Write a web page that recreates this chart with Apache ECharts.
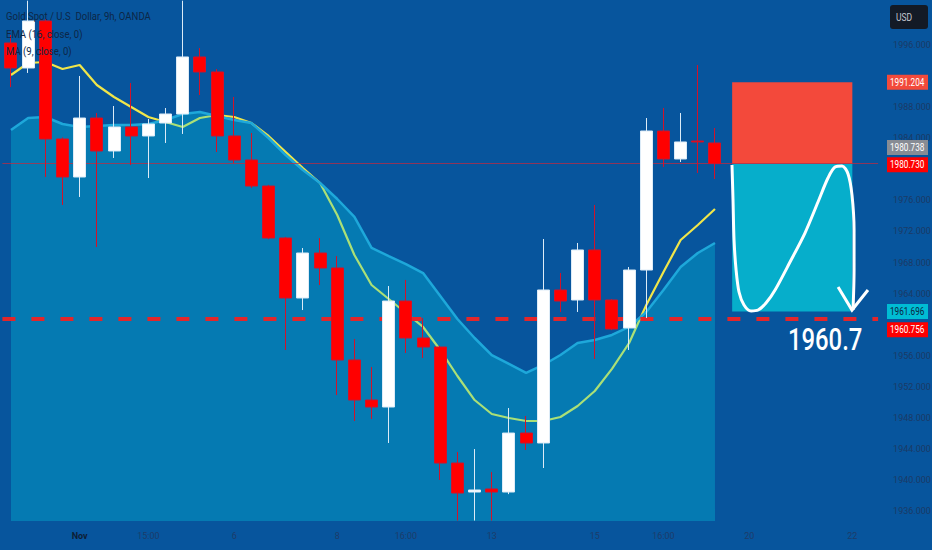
<!DOCTYPE html>
<html><head><meta charset="utf-8">
<script src="https://cdn.jsdelivr.net/npm/echarts/dist/echarts.min.js"></script>
<style>html,body{margin:0;padding:0;background:#07559d;}#c{width:932px;height:550px;}</style>
</head><body><div id="c"></div>
<script>
// ---- data ----
const opens  = [1996.26,1993.04,1999.09,1983.90,1979.01,1986.60,1982.36,1985.45,1984.29,1985.96,1987.12,1994.46,1992.53,1984.29,1981.20,1977.85,1971.16,1963.44,1969.23,1967.30,1955.46,1950.31,1949.41,1963.05,1958.29,1957.13,1942.20,1938.47,1938.86,1938.47,1946.06,1944.78,1964.47,1963.18,1969.62,1963.18,1959.58,1967.04,1984.93,1981.33,1983.64,1983.39];
const closes = [1993.04,1999.09,1983.90,1979.01,1986.60,1982.36,1985.45,1984.29,1985.83,1987.12,1994.46,1992.53,1984.29,1981.20,1977.85,1971.16,1963.44,1969.23,1967.30,1955.46,1950.31,1949.41,1963.05,1958.29,1957.13,1942.20,1938.34,1938.73,1938.47,1946.06,1944.78,1964.47,1963.05,1969.62,1963.18,1959.45,1967.04,1984.93,1981.33,1983.52,1983.52,1980.73];
const lows   = [1990.59,1992.40,1979.01,1975.41,1976.44,1970.00,1981.46,1980.56,1978.88,1983.39,1984.55,1989.56,1982.23,1980.80,1977.60,1971.00,1956.75,1961.89,1965.11,1950.95,1947.61,1947.87,1944.78,1956.36,1955.72,1940.02,1934.80,1934.80,1934.80,1938.20,1943.88,1941.56,1961.64,1961.64,1955.59,1959.30,1956.75,1960.86,1980.30,1980.94,1979.53,1978.75];
const highs  = [1997.29,2001.70,1999.30,1984.10,1992.01,1987.25,1988.15,1991.11,1986.48,1987.89,2001.70,1995.61,1992.91,1989.31,1984.67,1978.00,1971.30,1969.87,1971.16,1968.84,1958.16,1954.56,1964.98,1965.76,1960.86,1957.30,1943.62,1944.00,1941.04,1949.28,1948.25,1971.03,1966.66,1970.52,1975.41,1963.30,1967.43,1986.60,1987.89,1987.25,1993.43,1985.32];
const ema16  = [1992.14,1993.68,1993.81,1992.91,1993.43,1990.85,1989.31,1988.02,1986.73,1986.09,1985.45,1986.60,1986.99,1986.73,1985.96,1984.29,1982.23,1980.17,1978.24,1974.12,1968.97,1965.11,1963.31,1961.51,1959.71,1956.75,1953.40,1950.31,1948.51,1948.00,1947.61,1947.61,1948.13,1949.54,1951.47,1954.31,1957.65,1962.54,1966.79,1970.90,1972.83,1974.89];
const ma9    = [1985.06,1986.60,1986.73,1985.83,1985.45,1985.58,1985.70,1985.70,1985.83,1986.35,1987.12,1987.38,1986.86,1986.35,1985.96,1984.03,1981.84,1979.91,1978.24,1976.18,1973.87,1969.88,1968.84,1967.81,1966.65,1963.70,1960.74,1958.29,1956.10,1954.95,1953.79,1954.82,1956.10,1957.65,1958.04,1958.68,1959.71,1961.64,1964.47,1967.43,1969.23,1970.52];
const slotCount = 51;
const labelIdx  = [4,8,13,19,23,28,34,38,43,49];
const labelText = ['Nov','15:00','6','8','16:00','13','15','16:00','20','22'];
const yTicks = [1936,1940,1944,1948,1952,1956,1964,1968,1972,1976,1984,1988,1996];
const yMin = 1934.74, yMax = 2001.79;
const stopLevel = 1991.204, entryLevel = 1980.730, currentPrice = 1980.738, targetLevel = 1961.696, lineLevel = 1960.756;
const zoneStart = 42, zoneEnd = 49;
const curveX = [41.99,42.05,42.11,42.23,42.40,42.69,43.10,43.51,43.97,44.50,45.37,46.24,47.00,47.58,47.99,48.40,48.75,48.98,49.10,49.10,49.04];
const curveY = [1980.56,1976.05,1970.90,1967.04,1964.21,1962.54,1961.77,1961.89,1962.79,1964.47,1968.07,1971.80,1975.79,1978.88,1980.30,1980.43,1979.40,1976.69,1972.19,1967.04,1961.89];
const arrowX = [48.17,48.98,49.91];
const arrowY = [1964.85,1961.89,1964.47];
const legendLines = ['Gold Spot / U.S  Dollar, 9h, OANDA','EMA (16, close, 0)','MA (9, close, 0)'];
const targetText = '1960.7';
const tagValues = [stopLevel, currentPrice, entryLevel, targetLevel, lineLevel];

// ---- styles ----
const tagBg = ['#f24a3b','#878c94','#ff0000','#00bcd4','#ff0000'];
const tagFg = ['#ffffff','#ffffff','#ffffff','#0a2540','#ffffff'];
const tagShift = [0,-16,1,0,11];
const FONT = "Roboto, sans-serif";

const chart = echarts.init(document.getElementById('c'), null, {renderer:'svg', width:932, height:550});
const cats = Array.from({length: slotCount}, (_, i) => { const k = labelIdx.indexOf(i); return k >= 0 ? labelText[k] : ''; });
const candleData = opens.map((o, i) => [o, closes[i], lows[i], highs[i]]);
const curveData = curveX.map((x, i) => [x, curveY[i]]);
const arrowData = arrowX.map((x, i) => [x, arrowY[i]]);

chart.setOption({
  backgroundColor: '#07559d',
  animation: false,
  grid: {left: 2.4, right: 53.9, top: 0, bottom: 29, containLabel: false, outerBoundsMode: 'none'},
  xAxis: [
    {type: 'category', data: cats, boundaryGap: true,
     axisLine: {show: false}, axisTick: {show: false}, splitLine: {show: false},
     axisLabel: {interval: 0, margin: 10, color: '#1d3c6a', fontSize: 9, fontFamily: FONT,
       formatter: v => v === 'Nov' ? '{b|Nov}' : v,
       rich: {b: {fontWeight: 'bold', color: '#0d1e36', fontSize: 9, fontFamily: FONT}}}},
    {type: 'value', min: -0.5, max: slotCount - 0.5, show: false}
  ],
  yAxis: {type: 'value', position: 'right', min: yMin, max: yMax,
    splitLine: {show: false}, axisLine: {show: false}, axisTick: {show: false},
    axisLabel: {customValues: yTicks, formatter: v => v.toFixed(3), color: '#1b3a66', fontSize: 9, fontFamily: FONT, margin: 15}},
  series: [
    {type: 'line', name: 'EMA', data: ema16, symbol: 'none', z: 2,
     lineStyle: {color: '#f0e64a', width: 2.2},
     markLine: {silent: true, symbol: 'none', label: {show: false}, animation: false,
       data: [
         {yAxis: entryLevel, lineStyle: {color: 'rgba(200,40,60,0.7)', width: 1, type: 'solid'}},
         {yAxis: lineLevel, lineStyle: {color: '#e3262a', width: 4, type: [13, 16]}}
       ]}},
    {type: 'line', name: 'MA', data: ma9, symbol: 'none', z: 3,
     lineStyle: {color: '#1ea8da', width: 2.5},
     areaStyle: {color: 'rgba(2,212,227,0.42)', origin: 'start'}},
    {type: 'line', xAxisIndex: 1, data: [], z: 4,
     markArea: {silent: true, data: [
       [{coord: [zoneStart, stopLevel], itemStyle: {color: '#f3493b', opacity: 1}}, {coord: [zoneEnd, entryLevel]}],
       [{coord: [zoneStart, entryLevel], itemStyle: {color: '#06aecb', opacity: 1}}, {coord: [zoneEnd, targetLevel]}]
     ]}},
    {type: 'candlestick', data: candleData, barWidth: 12.5, z: 5,
     itemStyle: {color: '#ffffff', color0: '#ff0000', borderColor: '#dcebf7', borderColor0: '#d2122a', borderWidth: 1}},
    {type: 'line', xAxisIndex: 1, data: curveData, smooth: 0.3, symbol: 'none', z: 6,
     lineStyle: {color: '#ffffff', width: 3}},
    {type: 'line', xAxisIndex: 1, data: arrowData, symbol: 'none', z: 6,
     lineStyle: {color: '#ffffff', width: 3, join: 'miter'}}
  ]
});

const g = [];
const legendY = [16, 34, 51];
legendLines.forEach((t, i) => g.push({type: 'text', x: 6, y: legendY[i], scaleX: 0.87, z: 50,
  style: {text: t, fill: '#0d2747', font: "11px " + FONT, textVerticalAlign: 'middle'}}));
tagValues.forEach((v, i) => {
  const py = chart.convertToPixel({yAxisIndex: 0}, v) + tagShift[i];
  g.push({type: 'rect', shape: {x: 887, y: py - 7.5, width: 41, height: 15}, style: {fill: tagBg[i]}, z: 50});
  g.push({type: 'text', x: 890, y: py, scaleX: 0.82, z: 51, style: {text: v.toFixed(3), fill: tagFg[i], font: "10px " + FONT, textVerticalAlign: 'middle'}});
});
g.push({type: 'rect', shape: {x: 890, y: 5, width: 38, height: 24, r: 3}, style: {fill: '#131a26'}, z: 50});
g.push({type: 'text', x: 896, y: 17, scaleX: 0.85, z: 51, style: {text: 'USD', fill: '#c5c9d0', font: "10px " + FONT, textVerticalAlign: 'middle'}});
const tp = chart.convertToPixel({seriesIndex: 4}, [zoneEnd, lineLevel]);
g.push({type: 'text', x: tp[0] + 10, y: tp[1] + 21, scaleX: 0.77, z: 51,
  style: {text: targetText, fill: '#ffffff', font: "500 31px " + FONT, textAlign: 'right', textVerticalAlign: 'middle'}});
chart.setOption({graphic: g});
</script></body></html>
